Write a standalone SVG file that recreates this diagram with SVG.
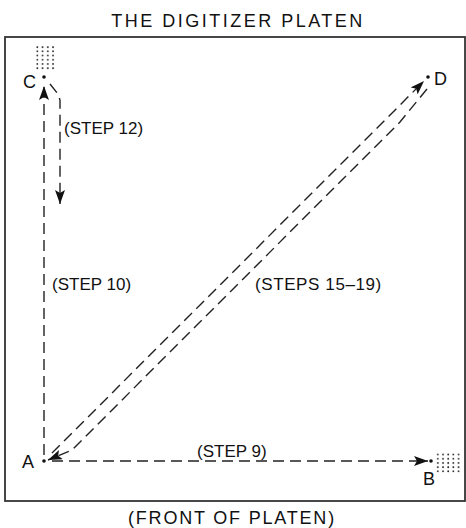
<svg xmlns="http://www.w3.org/2000/svg" width="466" height="528" viewBox="0 0 466 528">
<style>
  .lbl { font-family: "Liberation Sans", Arial, sans-serif; font-size: 17px; fill: #111; }
  .pl { font-size: 18px; }
  .ttl { font-family: "Liberation Sans", Arial, sans-serif; font-size: 18px; fill: #111; }
  .dash { fill: none; stroke: #222; stroke-width: 1.4; stroke-dasharray: 11 6; }
  .frame { fill: none; stroke: #333; stroke-width: 1.8; }
  .pt { fill: #111; }
</style>
<defs>
  <marker id="ah" markerUnits="userSpaceOnUse" markerWidth="16" markerHeight="10" refX="14" refY="5" orient="auto">
    <path d="M0,0 L14,5 L0,10 L3,5 Z" fill="#111"/>
  </marker>
  <pattern id="grid" patternUnits="userSpaceOnUse" width="5.2" height="4.2">
    <circle cx="1" cy="1" r="0.9" fill="#222"/>
  </pattern>
</defs>
<rect width="466" height="528" fill="#fff"/>
<text class="ttl" x="238" y="27" text-anchor="middle" letter-spacing="2.5">THE DIGITIZER PLATEN</text>
<rect class="frame" x="5" y="37" width="460" height="464"/>
<text class="ttl" x="232" y="524" text-anchor="middle" letter-spacing="1.8">(FRONT OF PLATEN)</text>

<g id="connectors">
  <path class="dash" d="M44,455 V86" marker-end="url(#ah)"/>
  <path class="dash" d="M50,84 L58,94 L60,100 V204" marker-end="url(#ah)"/>
  <path class="dash" d="M52,461 H428" marker-end="url(#ah)"/>
  <path class="dash" d="M52,453 L424,81" marker-end="url(#ah)"/>
  <path class="dash" d="M427,89 L400,122 L72,450 L48,460" marker-end="url(#ah)"/>
  <text class="lbl" x="64" y="134">(STEP 12)</text>
  <text class="lbl" x="52" y="290">(STEP 10)</text>
  <text class="lbl" x="255" y="290" letter-spacing="0.6">(STEPS 15–19)</text>
  <text class="lbl" x="197" y="457">(STEP 9)</text>
</g>

<g id="node-C">
  <rect x="36" y="45" width="20.8" height="25.2" fill="url(#grid)"/>
  <circle class="pt" cx="44" cy="77" r="1.8"/>
  <text class="lbl pl" x="23" y="88">C</text>
</g>
<g id="node-D">
  <circle class="pt" cx="428" cy="77" r="1.8"/>
  <text class="lbl pl" x="434" y="85">D</text>
</g>
<g id="node-A">
  <circle class="pt" cx="44" cy="461" r="1.8"/>
  <text class="lbl pl" x="22" y="468">A</text>
</g>
<g id="node-B">
  <rect x="434" y="452" width="26" height="21" fill="url(#grid)"/>
  <circle class="pt" cx="431" cy="461" r="1.8"/>
  <text class="lbl pl" x="423" y="485">B</text>
</g>
</svg>
